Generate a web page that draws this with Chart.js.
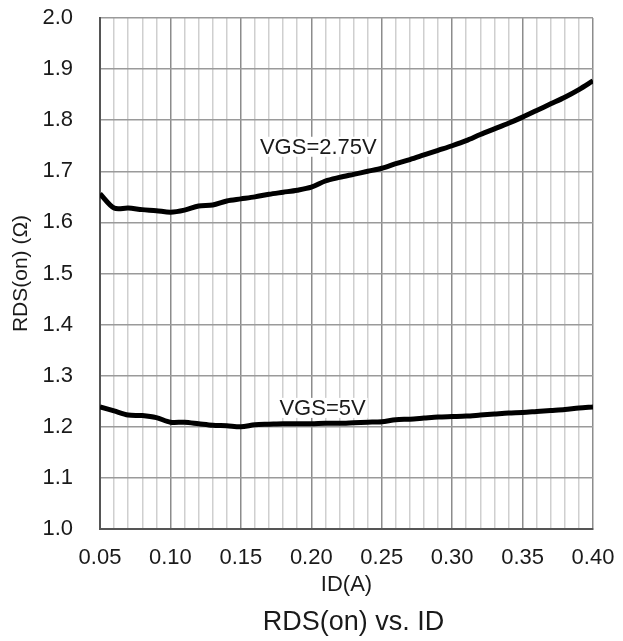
<!DOCTYPE html>
<html>
<head>
<meta charset="utf-8">
<script src="https://cdn.jsdelivr.net/npm/chart.js@4"></script>
<style>
  html, body { margin: 0; padding: 0; background: #fff; }
  #wrap { width: 623px; height: 641px; }
</style>
</head>
<body>
<div id="wrap"><canvas id="rdsChart"></canvas></div>
<script>
// ID (A) sample points
const idValues = [0.05, 0.06, 0.07, 0.08, 0.09, 0.10, 0.11, 0.12, 0.13, 0.14,
                  0.15, 0.16, 0.17, 0.18, 0.19, 0.20, 0.21, 0.22, 0.23, 0.24,
                  0.25, 0.26, 0.27, 0.28, 0.29, 0.30, 0.31, 0.32, 0.33, 0.34,
                  0.35, 0.36, 0.37, 0.38, 0.39, 0.40];

// RDS(on) at VGS=2.75V
const rdsVgs275 = [1.656, 1.628, 1.628, 1.625, 1.623, 1.620, 1.624, 1.632, 1.634, 1.642,
                   1.646, 1.650, 1.655, 1.659, 1.663, 1.669, 1.681, 1.688, 1.694, 1.700,
                   1.706, 1.715, 1.723, 1.732, 1.741, 1.750, 1.760, 1.772, 1.783, 1.794,
                   1.806, 1.819, 1.832, 1.845, 1.860, 1.877];

// RDS(on) at VGS=5V
const rdsVgs5 = [1.239, 1.231, 1.223, 1.222, 1.218, 1.209, 1.209, 1.206, 1.203, 1.202,
                 1.200, 1.204, 1.205, 1.206, 1.206, 1.206, 1.207, 1.207, 1.208, 1.209,
                 1.210, 1.214, 1.215, 1.217, 1.219, 1.220, 1.221, 1.223, 1.225, 1.227,
                 1.228, 1.230, 1.232, 1.234, 1.237, 1.239];

const seriesLabels = ["VGS=2.75V", "VGS=5V"];
// where each curve label sits, in data units
const labelAnchors = [[0.205, 1.748], [0.208, 1.237]];
const chartTitle = "RDS(on) vs. ID";

const FONT = "'Liberation Sans', Arial, sans-serif";

const toPoints = ys => idValues.map((x, i) => ({ x: x, y: ys[i] }));
const isMajor = v => Math.round(v * 100) % 5 === 0;

// curve labels with a white box behind them, plus the caption under the axis
const curveLabels = {
  id: "curveLabels",
  afterDatasetsDraw(chart) {
    const { ctx, scales, chartArea } = chart;
    ctx.save();
    ctx.font = "22px " + FONT;
    ctx.textAlign = "center";
    ctx.textBaseline = "middle";
    seriesLabels.forEach((txt, i) => {
      const px = scales.x.getPixelForValue(labelAnchors[i][0]);
      const py = scales.y.getPixelForValue(labelAnchors[i][1]);
      const w = ctx.measureText(txt).width;
      ctx.fillStyle = "#fff";
      ctx.fillRect(px - w / 2 - 2, py - 10, w + 4, 20);
      ctx.fillStyle = "#1a1a1a";
      ctx.fillText(txt, px, py + 1);
    });
    ctx.font = "27px " + FONT;
    ctx.fillText(chartTitle, (chartArea.left + chartArea.right) / 2 + 7, chart.height - 18);
    ctx.restore();
  }
};

new Chart(document.getElementById("rdsChart"), {
  type: "line",
  data: {
    datasets: [
      {
        label: seriesLabels[0],
        data: toPoints(rdsVgs275),
        borderColor: "#000",
        borderWidth: 5,
        pointRadius: 0,
        tension: 0.3,
        fill: false,
      },
      {
        label: seriesLabels[1],
        data: toPoints(rdsVgs5),
        borderColor: "#000",
        borderWidth: 5,
        pointRadius: 0,
        tension: 0.3,
        fill: false,
      },
    ],
  },
  plugins: [curveLabels],
  options: {
    responsive: true,
    maintainAspectRatio: false,
    animation: false,
    layout: { padding: { top: 18, right: 30, bottom: 34, left: 0 } },
    plugins: {
      legend: { display: false },
      tooltip: { enabled: false },
    },
    scales: {
      x: {
        type: "linear",
        min: 0.05,
        max: 0.40,
        afterFit(scale) {
          scale.height = 78;
          scale.paddingLeft = 0;
          scale.paddingRight = 0;
        },
        border: { display: true, color: "#555", width: 2 },
        grid: {
          drawTicks: false,
          color: ctx => (isMajor(ctx.tick.value) ? "#8c8c8c" : "#cfcfcf"),
          lineWidth: 1.5,
        },
        ticks: {
          stepSize: 0.01,
          autoSkip: false,
          maxRotation: 0,
          padding: 16,
          color: "#1a1a1a",
          font: { family: FONT, size: 22 },
          callback: v => (isMajor(v) ? v.toFixed(2) : ""),
        },
        title: {
          display: true,
          text: "ID(A)",
          color: "#1a1a1a",
          font: { family: FONT, size: 22, lineHeight: 1.2 },
          padding: { top: 0, bottom: 9 },
        },
      },
      y: {
        min: 1.0,
        max: 2.0,
        afterFit(scale) {
          scale.width = 100;
          scale.paddingTop = 0;
          scale.paddingBottom = 0;
        },
        border: { display: true, color: "#555", width: 2 },
        grid: { drawTicks: false, color: "#9a9a9a", lineWidth: 1.5 },
        ticks: {
          stepSize: 0.1,
          padding: 27,
          color: "#1a1a1a",
          font: { family: FONT, size: 22 },
          callback: v => v.toFixed(1),
        },
        title: {
          display: true,
          text: "RDS(on) (Ω)",
          color: "#1a1a1a",
          font: { family: FONT, size: 21, lineHeight: 1.2 },
          padding: { top: 9, bottom: 0 },
        },
      },
    },
  },
});
</script>
</body>
</html>
